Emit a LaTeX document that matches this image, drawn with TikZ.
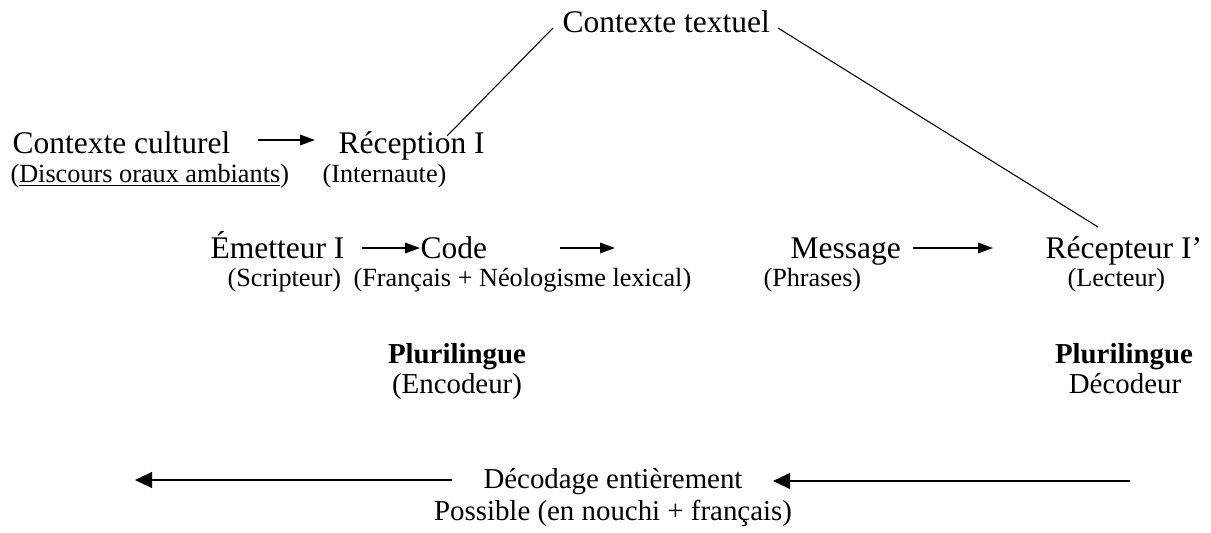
\documentclass[tikz,border=0pt]{standalone}
\usepackage{fontspec}
\setmainfont{Liberation Serif}
\usetikzlibrary{arrows.meta}
\begin{document}
\begin{tikzpicture}[x=0.38095pt,y=-0.38095pt,
  big/.style={inner sep=0pt, anchor=base west, font=\fontsize{12}{14}\selectfont},
  mid/.style={inner sep=0pt, anchor=base, font=\fontsize{11}{13}\selectfont},
  small/.style={inner sep=0pt, anchor=base west, font=\fontsize{10}{12}\selectfont},
  link/.style={line width=0.4pt},
  flow/.style={line width=0.65pt, -{Triangle[length=5.7pt,width=4pt]}},
  back/.style={line width=0.8pt, -{Triangle[length=6.5pt,width=6pt]}}]
\useasboundingbox (0,0) rectangle (1211,532);

% top: textual context
\node[big] (ct) at (562,32) {Contexte textuel};

% cultural context and first reception
\node[big] (cc) at (12,153) {Contexte culturel};
\node[big] (rec) at (338,153) {Réception I};
\node[small] (disc) at (10,182) {(\underline{Discours oraux ambiants})};
\node[small] (inter) at (322,182) {(Internaute)};

% communication chain
\node[big] (em) at (210,258) {Émetteur I};
\node[big] (code) at (420,258) {Code};
\node[big] (msg) at (790,258) {Message};
\node[big] (rcp) at (1045,258) {Récepteur I’};
\node[small] (scr) at (227,286) {(Scripteur)};
\node[small] (fr) at (353,286) {(Français + Néologisme lexical)};
\node[small] (ph) at (763,286) {(Phrases)};
\node[small] (lec) at (1067,286) {(Lecteur)};

% encoder / decoder
\node[mid] (pl1) at (457,363) {\textbf{Plurilingue}};
\node[mid] (enc) at (457,393) {(Encodeur)};
\node[mid] (pl2) at (1124,363) {\textbf{Plurilingue}};
\node[mid] (dec) at (1125,393) {Décodeur};

% decoding line
\node[mid] (deco) at (613,488) {Décodage entièrement};
\node[mid] (poss) at (613,520) {Possible (en nouchi + français)};

% links from the textual context
\coordinate (ctL) at (553,28);
\coordinate (recT) at (447,136);
\coordinate (ctR) at (778,28);
\coordinate (rcpT) at (1098,227);
\draw[link] (ctL) -- (recT);
\draw[link] (ctR) -- (rcpT);

% flow arrows
\coordinate (a1s) at (258,140);
\coordinate (a1e) at (315,140);
\draw[flow] (a1s) -- (a1e);
\coordinate (a2s) at (362,248);
\draw[flow] (a2s) -- (a2s -| code.west);
\coordinate (a3s) at (560,248);
\coordinate (a3e) at (615,248);
\draw[flow] (a3s) -- (a3e);
\coordinate (a4s) at (913,248);
\coordinate (a4e) at (993,248);
\draw[flow] (a4s) -- (a4e);

% backward arrows around the decoding text
\coordinate (b1s) at (452,480);
\coordinate (b1e) at (135,480);
\draw[back] (b1s) -- (b1e);
\coordinate (b2s) at (1130,481);
\coordinate (b2e) at (773,481);
\draw[back] (b2s) -- (b2e);
\end{tikzpicture}
\end{document}
